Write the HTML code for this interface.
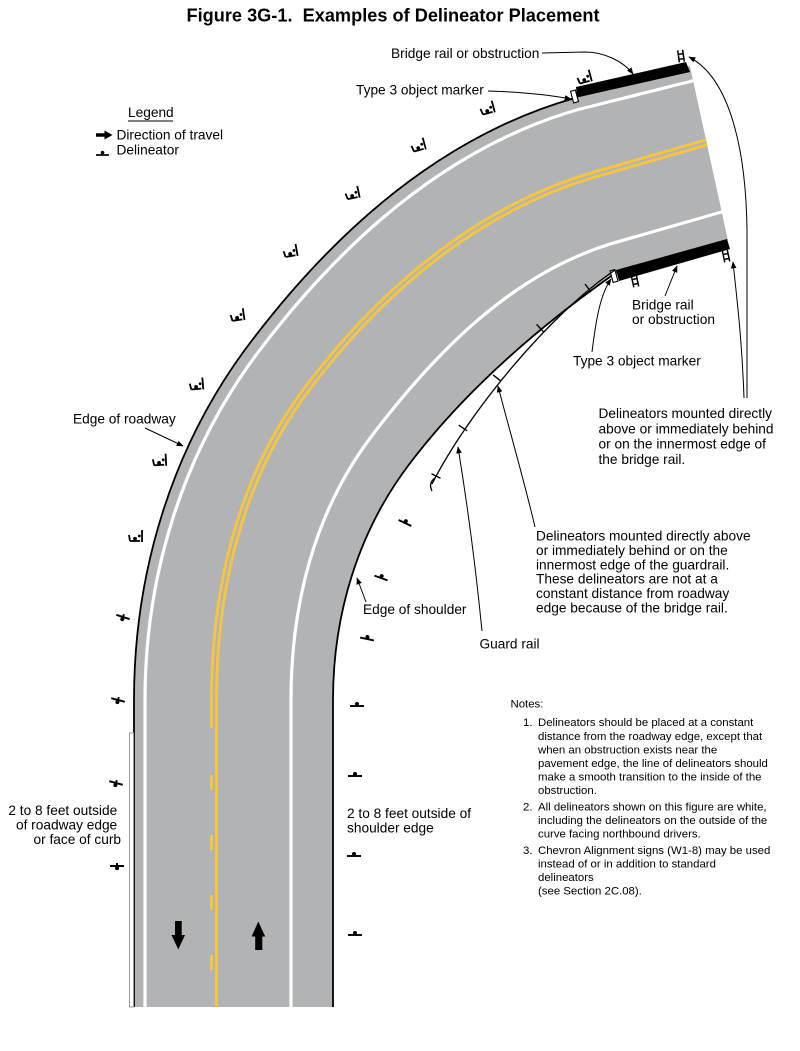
<!DOCTYPE html>
<html>
<head>
<meta charset="utf-8">
<style>
  html, body { margin:0; padding:0; background:#fff; }
  svg { display:block; }
  text { font-family: "Liberation Sans", Arial, sans-serif; fill:#000; }
</style>
</head>
<body>
<svg width="800" height="1051" viewBox="0 0 800 1051" xmlns="http://www.w3.org/2000/svg">
  <defs>
    <clipPath id="roadclip">
      <polygon points="0,0 675.6,0 741,300 741,1051 0,1051"/>
    </clipPath>
    <marker id="ah" viewBox="0 0 10 10" refX="9" refY="5" markerWidth="7" markerHeight="7" markerUnits="userSpaceOnUse" orient="auto">
      <path d="M0,1 L10,5 L0,9 z" fill="#000"/>
    </marker>
    <!-- outer curve delineator -->
    <g id="dA">
      <path d="M-6,3 L4,3 M6,-8 L6,4 M-6,3 L-7,-3" stroke="#000" stroke-width="1.8" fill="none"/>
      <circle cx="-1" cy="0.8" r="1.9" fill="#000"/>
      <circle cx="3.3" cy="-2" r="1.4" fill="#000"/>
    </g>
    <!-- inner / right delineator (dot above) -->
    <g id="dB">
      <path d="M-7,0 L7,0" stroke="#000" stroke-width="1.9" fill="none"/>
      <circle cx="0" cy="-2" r="2" fill="#000"/>
    </g>
    <!-- left straight delineator (dot below) -->
    <g id="dL">
      <path d="M-7,0 L7,0 M0,0 L0,-3" stroke="#000" stroke-width="1.9" fill="none"/>
      <circle cx="0" cy="2.2" r="2" fill="#000"/>
    </g>
    <!-- ladder delineator on bridge rail -->
    <g id="dH">
      <path d="M-2.5,-6 L-2.5,6 M2.5,-6 L2.5,6 M-2.5,-2 L2.5,-2 M-2.5,3 L2.5,3" stroke="#000" stroke-width="1.5" fill="none"/>
    </g>
  </defs>

  <!-- Title -->
  <text x="186.5" y="21.5" font-size="18" font-weight="bold" textLength="413" lengthAdjust="spacingAndGlyphs">Figure 3G-1.&#160; Examples of Delineator Placement</text>

  <!-- ROAD -->
  <g clip-path="url(#roadclip)">
    <path d="M134,1007 L134,700 C134,571.5 172.3,445.4 250,343 C334,232 441,136 575,98 L690,66 L728,240 L617,272 C540,325.6 466.4,389 409.4,464 C357.9,531.8 333,614.9 333,700 L333,1007 Z" fill="#b1b3b5"/>
    <!-- left white edge line -->
    <path d="M145,1007 L145,700 C145,574.1 183.4,450.6 259.6,350.3 C342.1,241.6 447.2,147.1 578.3,109.5 L700,79" fill="none" stroke="#fff" stroke-width="3.2"/>
    <!-- right white edge line -->
    <path d="M291,1007 L291,700 C291,604.5 314.2,511.7 372,435.6 C436.3,351 514.3,271.5 616.4,242.2 L740,206.7" fill="none" stroke="#fff" stroke-width="3.2"/>
    <!-- double yellow on curve -->
    <path d="M214,728 L214,700 C214,588 240.4,476.5 308.2,387.2 C382.4,289.5 479,207.7 596.8,173.9 L720,138.5" fill="none" stroke="#f4c545" stroke-width="8"/>
    <path d="M214,728 L214,700 C214,588 240.4,476.5 308.2,387.2 C382.4,289.5 479,207.7 596.8,173.9 L720,138.5" fill="none" stroke="#b1b3b5" stroke-width="2"/>
  </g>
  <!-- straight yellow section -->
  <path d="M216.5,727 L216.5,1007" stroke="#f4c545" stroke-width="3"/>
  <path d="M211.5,775 V790 M211.5,835 V850 M211.5,895 V910 M211.5,955 V970" stroke="#f4c545" stroke-width="3"/>

  <!-- edges -->
  <path d="M134,1007 L134,700 C134,571.5 172.3,445.4 250,343 C334,232 441,136 575,98" fill="none" stroke="#000" stroke-width="1.8"/>
  <path d="M333,1007 L333,700 C333,614.9 357.9,531.8 409.4,464 C466.4,389 540,325.6 617,272" fill="none" stroke="#000" stroke-width="1.8"/>

  <!-- curb -->
  <rect x="129.5" y="733" width="4" height="274" fill="#fff" stroke="#999" stroke-width="1"/>

  <!-- bridge rails -->
  <polygon points="576,87 686,62 690,72 577,97.5" fill="#000"/>
  <polygon points="616,270 727,239 730,249 619,281" fill="#000"/>
  <!-- type 3 object markers -->
  <rect x="-2.5" y="-6" width="5" height="12" fill="#fff" stroke="#000" stroke-width="1.1" transform="translate(574.5,96.5) rotate(-15)"/>
  <rect x="-2.5" y="-6" width="5" height="12" fill="#fff" stroke="#000" stroke-width="1.1" transform="translate(614,276) rotate(-15)"/>

  <!-- guardrail -->
  <path d="M432,484 C468,413 549,314.6 615,270" fill="none" stroke="#000" stroke-width="1.3"/>
  <path d="M435,478 Q428,483 432,491" fill="none" stroke="#000" stroke-width="1.3"/>
  <path d="M431.5,473.7 L440.5,478.3 M458.8,425.2 L467.2,430.8 M493.1,374.9 L500.9,381.1 M536.6,324.4 L543.4,331.6 M585,284 L591,292" stroke="#000" stroke-width="1.4"/>

  <!-- bridge ladder delineators -->
  <use href="#dH" transform="translate(681,56) rotate(-8)"/>
  <use href="#dH" transform="translate(635,281) rotate(-12)"/>
  <use href="#dH" transform="translate(726,256) rotate(-12)"/>

  <!-- outer curve delineators -->
  <use href="#dA" transform="translate(585,79) rotate(-15)"/>
  <use href="#dA" transform="translate(488,110) rotate(-15)"/>
  <use href="#dA" transform="translate(419,147) rotate(-15)"/>
  <use href="#dA" transform="translate(353,195) rotate(-12)"/>
  <use href="#dA" transform="translate(291,253) rotate(-10)"/>
  <use href="#dA" transform="translate(238,317) rotate(-8)"/>
  <use href="#dA" transform="translate(197,386) rotate(-5)"/>
  <use href="#dA" transform="translate(160,462) rotate(-3)"/>
  <use href="#dA" transform="translate(136,538) rotate(0)"/>
  <!-- left straight delineators -->
  <use href="#dL" transform="translate(123,617) rotate(18)"/>
  <use href="#dL" transform="translate(118,700) rotate(15)"/>
  <use href="#dL" transform="translate(116,783) rotate(15)"/>
  <use href="#dL" transform="translate(117,866) rotate(0)"/>
  <!-- inner delineators -->
  <use href="#dB" transform="translate(405,523) rotate(25)"/>
  <use href="#dB" transform="translate(381,578) rotate(20)"/>
  <use href="#dB" transform="translate(367,639) rotate(12)"/>
  <use href="#dB" transform="translate(357,706) rotate(0)"/>
  <use href="#dB" transform="translate(355,776) rotate(0)"/>
  <use href="#dB" transform="translate(354,856) rotate(0)"/>
  <use href="#dB" transform="translate(355,935) rotate(0)"/>

  <!-- direction arrows -->
  <path d="M175,921 H181.7 V935 H185 L178.3,949.5 L171.5,935 H175 Z" fill="#000"/>
  <path d="M258.3,921.5 L265.2,936.5 H262.3 V950 H255.2 V936.5 H251.6 Z" fill="#000"/>

  <!-- Legend -->
  <text x="128" y="117" font-size="13.7">Legend</text>
  <line x1="128" y1="121" x2="173" y2="121" stroke="#000" stroke-width="1"/>
  <path d="M96,135 H106" stroke="#000" stroke-width="3.5"/>
  <path d="M104.5,130.5 L112.5,135 L104.5,139.5 Z" fill="#000"/>
  <text x="116.5" y="139.5" font-size="13.7">Direction of travel</text>
  <path d="M96,155 H109" stroke="#000" stroke-width="1.7"/>
  <circle cx="102.5" cy="152.6" r="1.8" fill="#000"/>
  <text x="116.5" y="154.5" font-size="13.7">Delineator</text>

  <!-- Labels and pointers -->
  <text x="391" y="58" font-size="13.7">Bridge rail or obstruction</text>
  <path d="M542,53 L585,52 C605,52 624,62 633,74" fill="none" stroke="#000" stroke-width="1" marker-end="url(#ah)"/>

  <text x="356" y="94.5" font-size="13.7">Type 3 object marker</text>
  <path d="M488,91 C520,92 550,95 571,99" fill="none" stroke="#000" stroke-width="1" marker-end="url(#ah)"/>

  <path d="M747,398 L747,230 C746,150 730,78 689,57" fill="none" stroke="#000" stroke-width="1" marker-end="url(#ah)"/>
  <path d="M744,398 C742,340 737,300 733,262" fill="none" stroke="#000" stroke-width="1" marker-end="url(#ah)"/>

  <text x="632" y="309.5" font-size="13.7">Bridge rail</text>
  <text x="632" y="324" font-size="13.7">or obstruction</text>
  <path d="M665,296 L677,266" fill="none" stroke="#000" stroke-width="1" marker-end="url(#ah)"/>

  <text x="573" y="365.5" font-size="13.7">Type 3 object marker</text>
  <path d="M592,352 C596,320 600,295 611,279" fill="none" stroke="#000" stroke-width="1" marker-end="url(#ah)"/>

  <text font-size="13.7">
    <tspan x="598.5" y="418">Delineators mounted directly</tspan>
    <tspan x="598.5" y="433.5">above or immediately behind</tspan>
    <tspan x="598.5" y="448.5">or on the innermost edge of</tspan>
    <tspan x="598.5" y="464">the bridge rail.</tspan>
  </text>

  <text x="73" y="423.5" font-size="13.7">Edge of roadway</text>
  <path d="M145,428 L183,446" fill="none" stroke="#000" stroke-width="1" marker-end="url(#ah)"/>

  <text font-size="13.7">
    <tspan x="536" y="540.5">Delineators mounted directly above</tspan>
    <tspan x="536" y="555">or immediately behind or on the</tspan>
    <tspan x="536" y="569.5">innermost edge of the guardrail.</tspan>
    <tspan x="536" y="583.5">These delineators are not at a</tspan>
    <tspan x="536" y="598">constant distance from roadway</tspan>
    <tspan x="536" y="612.5">edge because of the bridge rail.</tspan>
  </text>
  <path d="M535,527 C524,480 508,425 498,386" fill="none" stroke="#000" stroke-width="1" marker-end="url(#ah)"/>

  <text x="363" y="614" font-size="13.7">Edge of shoulder</text>
  <path d="M366,602 L357,578" fill="none" stroke="#000" stroke-width="1" marker-end="url(#ah)"/>

  <text x="479.5" y="648.5" font-size="13.7">Guard rail</text>
  <path d="M482,631 C475,560 465,490 458,447" fill="none" stroke="#000" stroke-width="1" marker-end="url(#ah)"/>

  <text font-size="13.7" text-anchor="end">
    <tspan x="121" y="815">2 to 8 feet outside</tspan>
    <tspan x="121" y="829.5">of roadway edge</tspan>
    <tspan x="121" y="844">or face of curb</tspan>
  </text>

  <text font-size="13.7">
    <tspan x="347" y="818">2 to 8 feet outside of</tspan>
    <tspan x="347" y="832.5">shoulder edge</tspan>
  </text>

  <!-- Notes -->
  <text font-size="11.4">
    <tspan x="510.5" y="707.5">Notes:</tspan>
    <tspan x="523" y="726">1.</tspan>
    <tspan x="538" y="726">Delineators should be placed at a constant</tspan>
    <tspan x="538" y="740">distance from the roadway edge, except that</tspan>
    <tspan x="538" y="753.5">when an obstruction exists near the</tspan>
    <tspan x="538" y="767">pavement edge, the line of delineators should</tspan>
    <tspan x="538" y="780.5">make a smooth transition to the inside of the</tspan>
    <tspan x="538" y="794">obstruction.</tspan>
    <tspan x="523" y="810.5">2.</tspan>
    <tspan x="538" y="810.5">All delineators shown on this figure are white,</tspan>
    <tspan x="538" y="824">including the delineators on the outside of the</tspan>
    <tspan x="538" y="837.5">curve facing northbound drivers.</tspan>
    <tspan x="523" y="854">3.</tspan>
    <tspan x="538" y="854">Chevron Alignment signs (W1-8) may be used</tspan>
    <tspan x="538" y="867.5">instead of or in addition to standard</tspan>
    <tspan x="538" y="881">delineators</tspan>
    <tspan x="538" y="894.5">(see Section 2C.08).</tspan>
  </text>
</svg>
</body>
</html>
